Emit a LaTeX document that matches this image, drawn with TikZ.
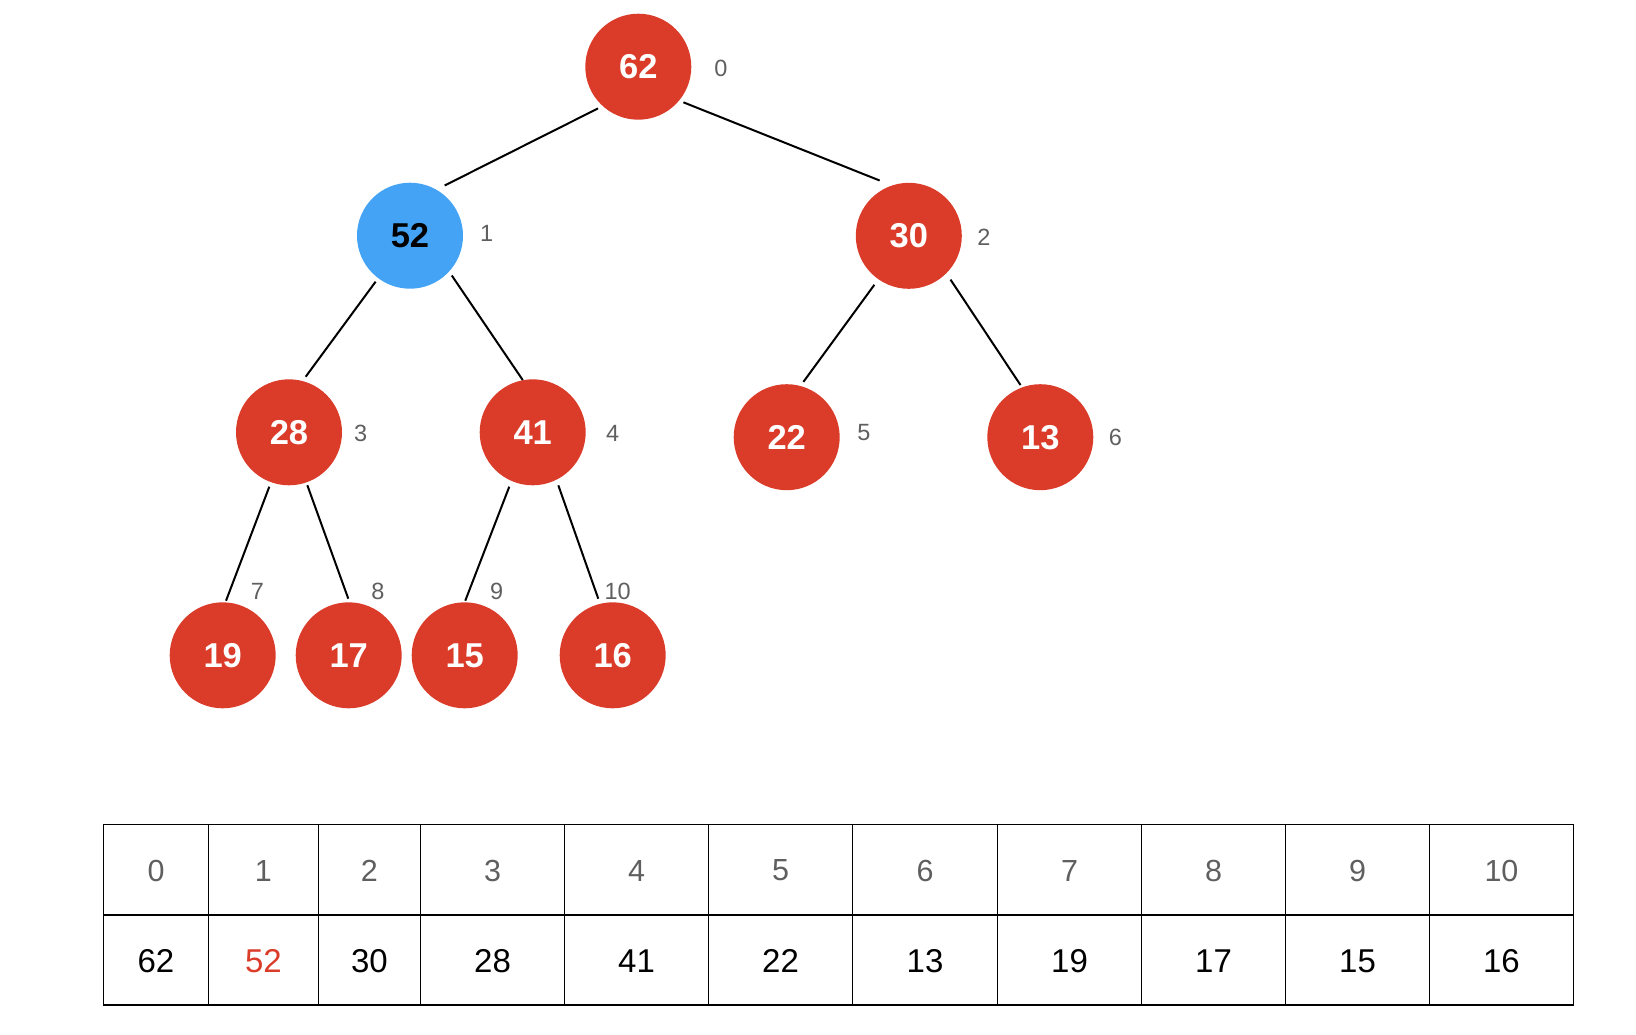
\documentclass[tikz,border=0pt]{standalone}
\usepackage{fontspec}
\setmainfont{Liberation Sans}
\definecolor{heapred}{RGB}{219,59,41}
\definecolor{heapblue}{RGB}{69,163,245}
\definecolor{idxgray}{RGB}{95,95,95}
\begin{document}
\begin{tikzpicture}[x=1pt,y=-1pt,
  heapnode/.style={circle,fill=heapred,draw=none,minimum size=106pt,inner sep=0pt,
    text=white,font=\fontsize{34.5}{40}\selectfont\bfseries},
  selnode/.style={heapnode,fill=heapblue,text=black},
  idxlabel/.style={text=idxgray,inner sep=0pt,font=\fontsize{23.5}{28}\selectfont},
  edge/.style={line width=2pt,black},
  tabline/.style={line width=1.4pt,black},
  tabidx/.style={text=idxgray,inner sep=0pt,font=\fontsize{30.5}{35}\selectfont},
  tabval/.style={text=black,inner sep=0pt,font=\fontsize{33}{38}\selectfont}]
\useasboundingbox (0,0) rectangle (1636,1034);
% tree nodes
\node[heapnode] (n0) at (638.3,66.7) {62};
\node[selnode]  (n1) at (410,235.7) {52};
\node[heapnode] (n2) at (908.8,235.8) {30};
\node[heapnode] (n3) at (289,432.3) {28};
\node[heapnode] (n4) at (532.7,432.3) {41};
\node[heapnode] (n5) at (786.7,437.2) {22};
\node[heapnode] (n6) at (1040.3,437.2) {13};
\node[heapnode] (n7) at (222.7,655.3) {19};
\node[heapnode] (n8) at (348.7,655.3) {17};
\node[heapnode] (n9) at (464.7,655.3) {15};
\node[heapnode] (n10) at (612.7,655.3) {16};
% index labels
\node[idxlabel] (l0) at (721,68) {0};
\node[idxlabel] (l1) at (486.7,233) {1};
\node[idxlabel] (l2) at (984,237) {2};
\node[idxlabel] (l3) at (360.7,433.3) {3};
\node[idxlabel] (l4) at (612.7,433) {4};
\node[idxlabel] (l5) at (864,433) {5};
\node[idxlabel] (l6) at (1115.4,437.2) {6};
\node[idxlabel] (l7) at (257.3,591) {7};
\node[idxlabel] (l8) at (378,591) {8};
\node[idxlabel] (l9) at (496.7,591) {9};
\node[idxlabel] (l10) at (617.7,591) {10};
% edges
\draw[edge] ([shift={(134:58)}]n0.center) -- ([shift={(-55.4:61)}]n1.center);
\draw[edge] ([shift={(38.3:57.5)}]n0.center) -- ([shift={(-117.8:62.5)}]n2.center);
\draw[edge] ([shift={(126.8:57.4)}]n1.center) -- ([shift={(-73.3:58)}]n3.center);
\draw[edge] ([shift={(43.6:57.7)}]n1.center) -- ([shift={(-100.8:53.2)}]n4.center);
\draw[edge] ([shift={(125.1:59.9)}]n2.center) -- ([shift={(-73.2:57.8)}]n5.center);
\draw[edge] ([shift={(46.4:60.5)}]n2.center) -- ([shift={(-110.8:55.8)}]n6.center);
\draw[edge] ([shift={(109.9:57.9)}]n3.center) -- ([shift={(-86.5:54.7)}]n7.center);
\draw[edge] ([shift={(70.9:56)}]n3.center) -- ([shift={(-90.4:56.6)}]n8.center);
\draw[edge] ([shift={(113.3:59.2)}]n4.center) -- ([shift={(-89.4:54.6)}]n9.center);
\draw[edge] ([shift={(64.2:58.9)}]n4.center) -- ([shift={(-104.3:58.4)}]n10.center);
% array table
\coordinate (tl) at (103.3,824.3);
\coordinate (br) at (1573.4,1004.8);
\draw[tabline] (tl) rectangle (br);
\draw[tabline] (103.3,915) coordinate (ml) -- (1573.4,915) coordinate (mr);
\foreach \x in {208.7,318.2,420.5,564.5,708.5,852.5,997.5,1141.5,1285.5,1429.5}
  \draw[tabline] (\x,824.3) -- (\x,1004.8);
\foreach \i/\a/\b/\v in {0/103.3/208.7/62,2/318.2/420.5/30,3/420.5/564.5/28,4/564.5/708.5/41,
  5/708.5/852.5/22,6/852.5/997.5/13,7/997.5/1141.5/19,8/1141.5/1285.5/17,9/1285.5/1429.5/15,10/1429.5/1573.4/16}{
  \node[tabidx] (ti\i) at ({(\a+\b)/2},870.5) {\i};
  \node[tabval] (tv\i) at ({(\a+\b)/2},961) {\v};
}
\node[tabidx] (ti1) at (263.45,870.5) {1};
\node[tabval,text=heapred] (tv1) at (263.45,961) {52};
\end{tikzpicture}
\end{document}
